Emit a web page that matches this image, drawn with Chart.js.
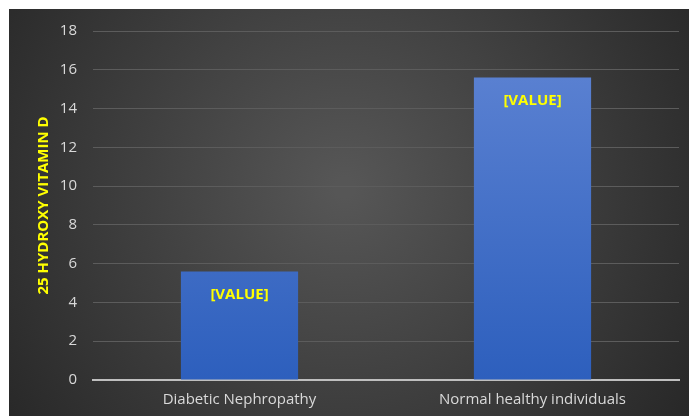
<!DOCTYPE html>
<html>
<head>
    <style>
        html, body { margin: 0; padding: 0; background: #fff; }
        #wrap { width: 689px; height: 416px; position: relative; }
    </style>
</head>
<body>
    <div id="wrap"><canvas id="vitChart"></canvas></div>

    <script src="https://cdn.jsdelivr.net/npm/chart.js@4/dist/chart.umd.min.js"></script>
    <script>
        const categories = ['Diabetic Nephropathy', 'Normal healthy individuals'];
        const vitaminD = [5.6, 15.6];
        const barLabels = ['[VALUE]', '[VALUE]'];
        const yTicks = [0, 2, 4, 6, 8, 10, 12, 14, 16, 18];
        const yTitle = '25 HYDROXY VITAMIN D';

        const FONT = '"Open Sans", Lato, sans-serif';

        // dark radial backdrop, offset so a white strip shows top and left
        const backdrop = {
            id: 'backdrop',
            beforeDraw(chart) {
                const ctx = chart.ctx;
                const w = chart.width, h = chart.height;
                ctx.save();
                ctx.fillStyle = '#ffffff';
                ctx.fillRect(0, 0, w, h);
                const g = ctx.createRadialGradient(w * 0.5, h * 0.45, 10, w * 0.5, h * 0.45, w * 0.62);
                g.addColorStop(0, '#565656');
                g.addColorStop(1, '#262626');
                ctx.fillStyle = g;
                ctx.fillRect(9, 9, w - 9, h - 9);
                ctx.restore();
            }
        };

        // "[VALUE]" text near the top inside each bar
        const valueText = {
            id: 'valueText',
            afterDatasetsDraw(chart) {
                const ctx = chart.ctx;
                const meta = chart.getDatasetMeta(0);
                ctx.save();
                ctx.font = 'bold 15px ' + FONT;
                ctx.fillStyle = '#ffff00';
                ctx.textAlign = 'center';
                ctx.textBaseline = 'middle';
                meta.data.forEach((bar, i) => {
                    ctx.fillText(barLabels[i], bar.x, bar.y + 23);
                });
                ctx.restore();
            }
        };

        new Chart(document.getElementById('vitChart'), {
            type: 'bar',
            data: {
                labels: categories,
                datasets: [{
                    data: vitaminD,
                    backgroundColor(context) {
                        const area = context.chart.chartArea;
                        if (!area) return '#4472c4';
                        const g = context.chart.ctx.createLinearGradient(0, area.top, 0, area.bottom);
                        g.addColorStop(0, '#6085d4');
                        g.addColorStop(1, '#2d5fbd');
                        return g;
                    },
                    borderWidth: 0,
                    categoryPercentage: 1,
                    barPercentage: 0.4
                }]
            },
            options: {
                responsive: true,
                maintainAspectRatio: false,
                animation: false,
                layout: { padding: { left: 9, top: 31, right: 10, bottom: 0 } },
                plugins: {
                    legend: { display: false },
                    tooltip: { enabled: false }
                },
                scales: {
                    x: {
                        afterFit(scale) { scale.height = 36; },
                        grid: { display: false, drawTicks: false },
                        border: { color: '#bfbfbf', width: 2 },
                        ticks: {
                            color: '#d9d9d9',
                            font: { family: FONT, size: 15 },
                            padding: 11
                        }
                    },
                    y: {
                        min: 0,
                        max: 18,
                        afterFit(scale) { scale.width = 84; },
                        afterBuildTicks(scale) {
                            scale.ticks = yTicks.map(v => ({ value: v }));
                        },
                        grid: { color: '#5c5c5c', lineWidth: 1, drawTicks: false },
                        border: { display: false },
                        ticks: {
                            color: '#d9d9d9',
                            font: { family: FONT, size: 15 },
                            padding: 16
                        },
                        title: {
                            display: true,
                            text: yTitle,
                            color: '#ffff00',
                            font: { family: FONT, size: 15, weight: 'bold' },
                            padding: { top: 26, bottom: 0 }
                        }
                    }
                }
            },
            plugins: [backdrop, valueText]
        });
    </script>
</body>
</html>
